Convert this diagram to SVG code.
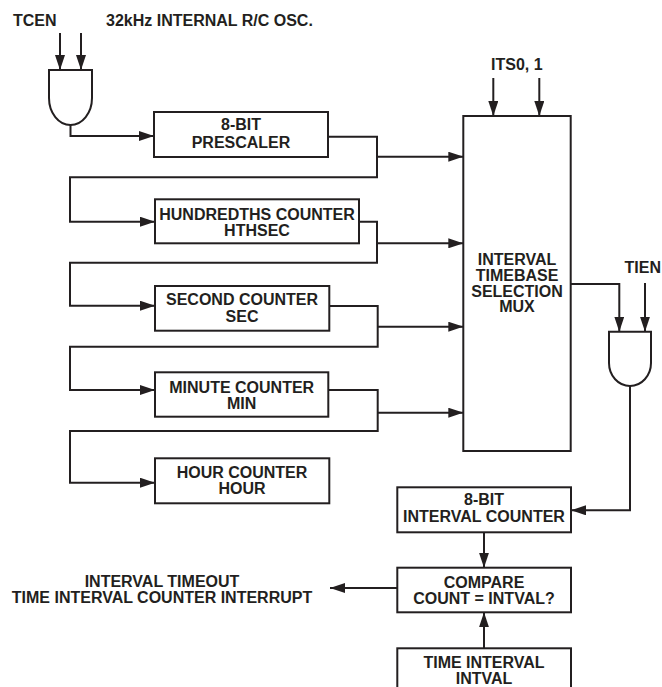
<svg xmlns="http://www.w3.org/2000/svg" width="662" height="687" viewBox="0 0 662 687">
<defs>
<style>
.t{font-family:"Liberation Sans",Arial,Helvetica,sans-serif;font-weight:bold;font-size:16px;fill:#231f20}
.m{text-anchor:middle}
.b{fill:#fff;stroke:#231f20;stroke-width:2}
.c{fill:none;stroke:#231f20;stroke-width:2}
.a{marker-end:url(#arr)}
</style>
<marker id="arr" markerUnits="userSpaceOnUse" markerWidth="15" markerHeight="10" refX="15" refY="5" orient="auto">
<path d="M0,0 L15,5 L0,10 Z" fill="#231f20"/>
</marker>
</defs>
<rect width="662" height="687" fill="#fff"/>

<g id="labels">
<text class="t" x="13" y="26">TCEN</text>
<text class="t" x="106" y="26">32kHz INTERNAL R/C OSC.</text>
<text class="t" x="491" y="70">ITS0, 1</text>
<text class="t" x="661" y="273" text-anchor="end">TIEN</text>
<text class="t m" x="162" y="587">INTERVAL TIMEOUT</text>
<text class="t m" x="162" y="603">TIME INTERVAL COUNTER INTERRUPT</text>
</g>

<g id="connectors">
<line class="c a" x1="60" y1="33" x2="60" y2="70"/>
<line class="c a" x1="81" y1="33" x2="81" y2="70"/>
<polyline class="c a" points="70.5,125 70.5,136 154,136"/>
<polyline class="c" points="328,136.7 377,136.7 377,177.3 70,177.3 70,221.7"/>
<line class="c a" x1="69" y1="221.7" x2="155" y2="221.7"/>
<line class="c a" x1="377" y1="156.7" x2="463.3" y2="156.7"/>
<polyline class="c" points="359,221.7 377,221.7 377,262.7 70,262.7 70,305.7"/>
<line class="c a" x1="69" y1="305.7" x2="155" y2="305.7"/>
<line class="c a" x1="377" y1="243.3" x2="463.3" y2="243.3"/>
<polyline class="c" points="329.3,306 377.7,306 377.7,346.7 70,346.7 70,390"/>
<line class="c a" x1="69" y1="390" x2="155" y2="390"/>
<line class="c a" x1="377.7" y1="326.7" x2="463.3" y2="326.7"/>
<polyline class="c" points="328.3,390 377.7,390 377.7,431 70,431 70,482.7"/>
<line class="c a" x1="69" y1="482.7" x2="155" y2="482.7"/>
<line class="c a" x1="377.7" y1="412.7" x2="463.3" y2="412.7"/>
<line class="c a" x1="493.3" y1="78" x2="493.3" y2="116"/>
<line class="c a" x1="539.3" y1="78" x2="539.3" y2="116"/>
<polyline class="c a" points="570.7,284 619.3,284 619.3,331.7"/>
<line class="c a" x1="645" y1="283" x2="645" y2="331.7"/>
<polyline class="c a" points="630,386 630,510.3 571,510.3"/>
<line class="c a" x1="484" y1="532.3" x2="484" y2="567.7"/>
<line class="c a" x1="484" y1="648.3" x2="484" y2="612.3"/>
<line class="c a" x1="397.3" y1="588" x2="330" y2="588"/>
</g>

<g id="gate1">
<path class="b" d="M49,70 H92 V98 A21.5,27 0 0 1 49,98 Z"/>
</g>

<g id="prescaler">
<rect class="b" x="154" y="112" width="174" height="45"/>
<text class="t m" x="241" y="130">8-BIT</text>
<text class="t m" x="241" y="147.7">PRESCALER</text>
</g>

<g id="hundredths">
<rect class="b" x="155" y="199.3" width="204" height="44"/>
<text class="t m" x="257" y="220">HUNDREDTHS COUNTER</text>
<text class="t m" x="257" y="235.7">HTHSEC</text>
</g>

<g id="second">
<rect class="b" x="155" y="286" width="174.3" height="44.7"/>
<text class="t m" x="242" y="305">SECOND COUNTER</text>
<text class="t m" x="242" y="321.7">SEC</text>
</g>

<g id="minute">
<rect class="b" x="155" y="372.3" width="173.3" height="44.4"/>
<text class="t m" x="241.7" y="393.3">MINUTE COUNTER</text>
<text class="t m" x="241.7" y="409.3">MIN</text>
</g>

<g id="hour">
<rect class="b" x="155" y="458.3" width="174.3" height="45"/>
<text class="t m" x="242" y="478.3">HOUR COUNTER</text>
<text class="t m" x="242" y="494">HOUR</text>
</g>

<g id="mux">
<rect class="b" x="463.3" y="116" width="107.4" height="335"/>
<text class="t m" x="517" y="265">INTERVAL</text>
<text class="t m" x="517" y="280.5">TIMEBASE</text>
<text class="t m" x="517" y="296.5">SELECTION</text>
<text class="t m" x="517" y="312">MUX</text>
</g>

<g id="gate2">
<path class="b" d="M609,331.7 H651 V363 A21,23 0 0 1 609,363 Z"/>
</g>

<g id="interval-counter">
<rect class="b" x="397.3" y="487.3" width="173.7" height="45"/>
<text class="t m" x="484" y="505">8-BIT</text>
<text class="t m" x="484" y="521.7">INTERVAL COUNTER</text>
</g>

<g id="compare">
<rect class="b" x="397.3" y="567.7" width="173.7" height="44.6"/>
<text class="t m" x="484" y="588.3">COMPARE</text>
<text class="t m" x="484" y="603.8">COUNT = INTVAL?</text>
</g>

<g id="intval">
<rect class="b" x="397.3" y="648.3" width="173.7" height="60"/>
<text class="t m" x="484" y="667.5">TIME INTERVAL</text>
<text class="t m" x="484" y="683.5">INTVAL</text>
</g>
</svg>
